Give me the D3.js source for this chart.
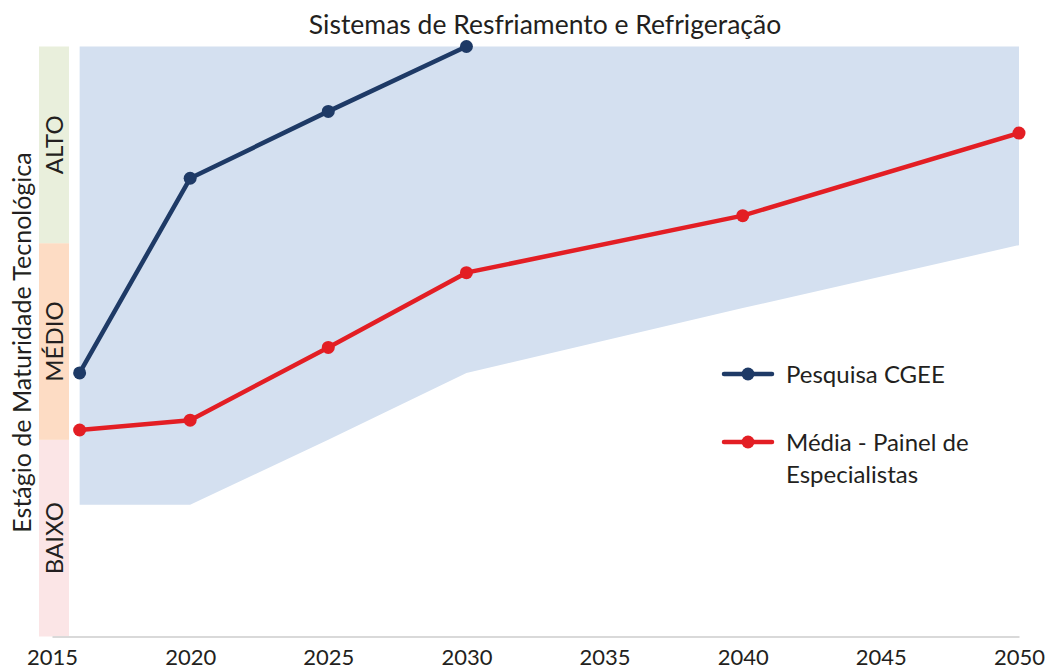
<!DOCTYPE html>
<meta charset="utf-8">
<style>
    body { margin: 0; background: #fff; }
    text { font-family: Lato, "Open Sans", sans-serif; fill: #231f20; }
</style>
<body>
    <div id="chart"></div>

    <script src="https://d3js.org/d3.v7.min.js"></script>

    <script>
        // tick labels on the x axis
        var yearTicks = [2015, 2020, 2025, 2030, 2035, 2040, 2045, 2050]

        // maturity levels, bottom to top (each one is one unit tall)
        var levels = ['BAIXO', 'MÉDIO', 'ALTO']
        var levelColors = ['#fbe5e6', '#fddcc4', '#e9efdc']

        // Pesquisa CGEE
        var cgeeYears = [2016, 2020, 2025, 2030]
        var cgeeValues = [1.34, 2.33, 2.67, 3.0]

        // Média - Painel de Especialistas
        var panelYears = [2016, 2020, 2025, 2030, 2040, 2050]
        var panelValues = [1.05, 1.10, 1.47, 1.85, 2.14, 2.56]

        // shaded range of the panel (min / max)
        var rangeYears = [2016, 2020, 2025, 2030, 2040, 2050]
        var rangeLow = [0.67, 0.67, 1.0, 1.34, 1.67, 1.99]
        var rangeHigh = [3, 3, 3, 3, 3, 3]

        var width = 1046
        var height = 671

        var x = d3.scaleLinear()
            .domain([2015, 2050])
            .range([52, 1019])
        var y = d3.scaleLinear()
            .domain([0, 3])
            .range([636.5, 46.5])

        var svg = d3.select('#chart')
            .append('svg')
            .attr('width', width)
            .attr('height', height)

        // title
        svg.append('text')
            .attr('x', 545)
            .attr('y', 34)
            .attr('text-anchor', 'middle')
            .style('font-size', '26.5px')
            .text('Sistemas de Resfriamento e Refrigeração')

        // level stripes on the left
        var stripes = svg.append('g')
        stripes.selectAll('rect')
            .data(levels)
            .enter()
            .append('rect')
            .attr('x', 39)
            .attr('width', 30)
            .attr('y', function (d, i) { return y(i + 1) })
            .attr('height', function (d, i) { return y(i) - y(i + 1) })
            .style('fill', function (d, i) { return levelColors[i] })

        stripes.selectAll('text')
            .data(levels)
            .enter()
            .append('text')
            .attr('transform', function (d, i) {
                return 'translate(63,' + y(i + 0.5) + ') rotate(-90)'
            })
            .attr('text-anchor', 'middle')
            .style('font-size', '24px')
            .text(function (d) { return d })

        // y axis title
        svg.append('text')
            .attr('transform', 'translate(31,' + (y(1.5) + 1) + ') rotate(-90)')
            .attr('text-anchor', 'middle')
            .style('font-size', '25px')
            .text('Estágio de Maturidade Tecnológica')

        // shaded band
        var band = rangeYears.map(function (d, i) {
            return { year: d, low: rangeLow[i], high: rangeHigh[i] }
        })
        svg.append('path')
            .datum(band)
            .attr('d', d3.area()
                .x(function (d) { return x(d.year) })
                .y0(function (d) { return y(d.low) })
                .y1(function (d) { return y(d.high) }))
            .style('fill', '#d4e0f0')

        // x axis
        var xAxis = d3.axisBottom(x)
            .tickValues(yearTicks)
            .tickFormat(d3.format('d'))
            .tickSize(0)
            .tickPadding(13)
        var gx = svg.append('g')
            .attr('transform', 'translate(0,' + y(0) + ')')
            .call(xAxis)
        gx.select('.domain')
            .style('stroke', '#d9d9d9')
            .style('stroke-width', 2)
        gx.selectAll('text')
            .style('font-family', 'Lato, "Open Sans", sans-serif')
            .style('font-size', '22px')
            .style('fill', '#231f20')

        // series lines
        function drawSeries(years, values, color) {
            var pts = years.map(function (d, i) { return [d, values[i]] })
            svg.append('path')
                .datum(pts)
                .attr('d', d3.line()
                    .x(function (d) { return x(d[0]) })
                    .y(function (d) { return y(d[1]) }))
                .style('fill', 'none')
                .style('stroke', color)
                .style('stroke-width', 4.5)
                .style('stroke-linejoin', 'round')
            svg.append('g')
                .selectAll('circle')
                .data(pts)
                .enter()
                .append('circle')
                .attr('cx', function (d) { return x(d[0]) })
                .attr('cy', function (d) { return y(d[1]) })
                .attr('r', 6.5)
                .style('fill', color)
        }
        drawSeries(panelYears, panelValues, '#e31e24')
        drawSeries(cgeeYears, cgeeValues, '#1e3a66')

        // legend
        var legend = [
            { lines: ['Pesquisa CGEE'], color: '#1e3a66', y: 374 },
            { lines: ['Média - Painel de', 'Especialistas'], color: '#e31e24', y: 442 }
        ]
        var lg = svg.append('g')
            .selectAll('g')
            .data(legend)
            .enter()
            .append('g')
            .attr('transform', function (d) { return 'translate(0,' + d.y + ')' })
        lg.append('line')
            .attr('x1', 724)
            .attr('x2', 772)
            .style('stroke', function (d) { return d.color })
            .style('stroke-width', 4.5)
            .style('stroke-linecap', 'round')
        lg.append('circle')
            .attr('cx', 748)
            .attr('r', 6.5)
            .style('fill', function (d) { return d.color })
        lg.append('text')
            .attr('x', 786)
            .attr('y', 9)
            .style('font-size', '24px')
            .selectAll('tspan')
            .data(function (d) { return d.lines })
            .enter()
            .append('tspan')
            .attr('x', 786)
            .attr('dy', function (d, i) { return i === 0 ? 0 : 32 })
            .text(function (d) { return d })
    </script>

</body>
